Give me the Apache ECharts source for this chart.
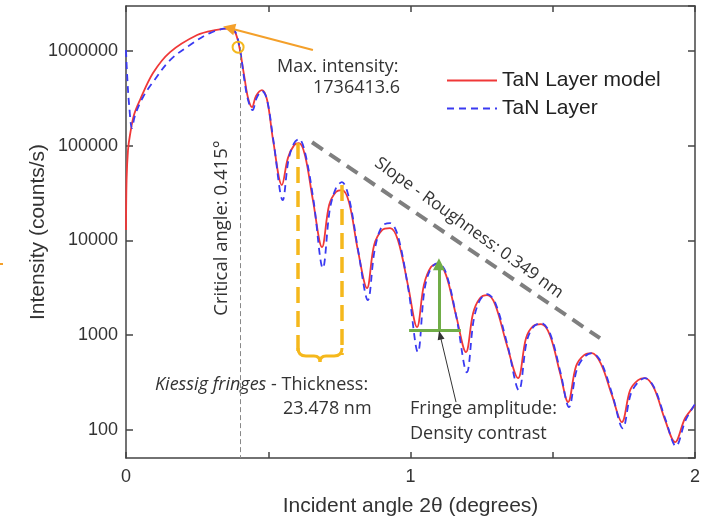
<!DOCTYPE html>
<html>
<head>
<meta charset="utf-8">
<script src="https://cdn.jsdelivr.net/npm/echarts@6/dist/echarts.min.js"></script>
<style>html,body{margin:0;padding:0;background:#fff}#c{width:713px;height:523px}</style>
</head>
<body>
<div id="c"></div>
<script>
// ---- data ----
const modelAngle = [0, 0.002, 0.007, 0.014, 0.028, 0.049, 0.095, 0.155, 0.250, 0.313, 0.366, 0.383, 0.397, 0.415, 0.429, 0.443, 0.457, 0.478, 0.496, 0.517, 0.548, 0.569, 0.591, 0.608, 0.629, 0.657, 0.689, 0.714, 0.738, 0.759, 0.784, 0.815, 0.847, 0.872, 0.900, 0.928, 0.956, 0.991, 1.023, 1.047, 1.072, 1.097, 1.125, 1.160, 1.195, 1.220, 1.244, 1.269, 1.297, 1.339, 1.378, 1.406, 1.431, 1.459, 1.490, 1.525, 1.554, 1.582, 1.610, 1.638, 1.670, 1.708, 1.743, 1.772, 1.800, 1.824, 1.856, 1.895, 1.930, 1.965, 2.0];
const modelIntensity = [12900, 43400, 90000, 130000, 211000, 304000, 586000, 975000, 1476000, 1667000, 1736413.6, 1588000, 1157000, 558000, 319000, 256000, 335000, 387000, 304000, 115000, 38500, 74100, 101600, 106900, 79800, 26700, 8510, 23700, 32500, 34100, 25400, 7920, 3140, 8930, 12880, 13520, 10100, 3380, 1218, 3380, 5240, 5640, 4310, 1630, 663, 1710, 2460, 2650, 2130, 785, 352, 931, 1247, 1309, 1002, 407, 197, 472, 617, 648, 495, 233, 121, 263, 336, 352, 276, 127, 74.3, 133, 183];
const dataAngle = [0, 0.004, 0.011, 0.021, 0.032, 0.060, 0.095, 0.155, 0.225, 0.295, 0.359, 0.383, 0.401, 0.415, 0.429, 0.445, 0.459, 0.478, 0.496, 0.519, 0.551, 0.571, 0.591, 0.608, 0.629, 0.659, 0.692, 0.716, 0.738, 0.759, 0.784, 0.817, 0.850, 0.874, 0.900, 0.928, 0.956, 0.993, 1.026, 1.049, 1.072, 1.097, 1.125, 1.162, 1.198, 1.222, 1.244, 1.269, 1.297, 1.341, 1.381, 1.408, 1.431, 1.459, 1.490, 1.527, 1.557, 1.584, 1.610, 1.638, 1.670, 1.710, 1.746, 1.774, 1.800, 1.824, 1.856, 1.897, 1.933, 1.967, 2.0];
const dataIntensity = [1025000, 558000, 269000, 154000, 211000, 327000, 471000, 803000, 1157000, 1549000, 1736000, 1626000, 1025000, 519000, 304000, 238000, 319000, 378000, 304000, 109000, 26700, 70600, 106900, 117800, 85700, 26700, 5120, 20900, 35700, 41400, 28000, 7550, 2350, 7920, 14200, 15280, 11100, 2990, 663, 2990, 5120, 5770, 4530, 1517, 407, 1442, 2350, 2720, 2240, 785, 263, 845, 1218, 1343, 1052, 407, 174, 428, 587, 648, 520, 233, 104, 239, 320, 352, 283, 127, 67.5, 127, 187];
const xTicks = [0, 1, 2];
const yTicks = [100, 1000, 10000, 100000, 1000000];
const seriesNames = ['TaN Layer model', 'TaN Layer'];

const pairs = (xs, ys) => xs.map((x, i) => [x, ys[i]]);
const chart = echarts.init(document.getElementById('c'), null, {renderer: 'canvas'});
const AX = '#444';
const FONT = '"Liberation Sans", Arial, sans-serif';
const NOTE = '"Open Sans", sans-serif';
const yMin = 50.6, yMax = 2990000;

const ml = (lines, style, symbols, symSize) => ({
  type: 'line', data: [], silent: true,
  markLine: {
    silent: true, animation: false, symbol: symbols || ['none', 'none'], symbolSize: symSize || 10,
    label: {show: false}, lineStyle: style,
    emphasis: {disabled: true},
    data: lines.map(l => [{coord: l[0]}, {coord: l[1]}])
  }
});

const BR = '#f5b81c';
chart.setOption({
  animation: false,
  backgroundColor: '#fff',
  grid: {left: 126, right: 18, top: 6, bottom: 65, containLabel: false},
  legend: {
    data: seriesNames, orient: 'vertical', left: 441, top: 65, itemWidth: 50, itemHeight: 14, itemGap: 7,
    itemStyle: {color: 'rgba(0,0,0,0)', borderWidth: 0, opacity: 0},
    textStyle: {fontFamily: FONT, fontSize: 21, color: '#222'}
  },
  xAxis: [{
    type: 'value', min: 0, max: 2, interval: 0.5,
    name: 'Incident angle 2\u03B8 (degrees)', nameLocation: 'middle', nameGap: 38,
    nameTextStyle: {fontFamily: FONT, fontSize: 21, color: '#333'},
    axisLine: {show: true, onZero: false, lineStyle: {color: AX, width: 1.5}},
    axisTick: {inside: true, length: 6, lineStyle: {color: AX, width: 1.5}},
    axisLabel: {fontFamily: FONT, fontSize: 18, color: '#333', margin: 10,
      formatter: v => xTicks.indexOf(v) >= 0 ? String(v) : ''},
    splitLine: {show: false}
  }, {
    type: 'value', min: 0, max: 2, interval: 0.5, position: 'top',
    axisLine: {show: true, onZero: false, lineStyle: {color: AX, width: 1.5}},
    axisTick: {inside: true, length: 6, lineStyle: {color: AX, width: 1.5}},
    axisLabel: {show: false}, splitLine: {show: false}
  }],
  yAxis: [{
    type: 'log', logBase: 10, min: yMin, max: yMax,
    name: 'Intensity (counts/s)', nameLocation: 'middle', nameGap: 77, nameMoveOverlap: false,
    nameTextStyle: {fontFamily: FONT, fontSize: 21, color: '#333'},
    axisLine: {show: true, onZero: false, lineStyle: {color: AX, width: 1.5}},
    axisTick: {inside: true, length: 7, lineStyle: {color: AX, width: 1.5}},
    axisLabel: {fontFamily: FONT, fontSize: 18, color: '#333', margin: 8, showMinLabel: false, showMaxLabel: false,
      formatter: v => { const r = Math.round(v); return yTicks.indexOf(r) >= 0 ? String(r) : ''; }},
    splitLine: {show: false}
  }, {
    type: 'log', logBase: 10, min: yMin, max: yMax, position: 'right',
    axisLine: {show: true, onZero: false, lineStyle: {color: AX, width: 1.5}},
    axisTick: {inside: true, length: 7, lineStyle: {color: AX, width: 1.5}},
    axisLabel: {show: false}, splitLine: {show: false}
  }],
  series: [
    ml([[[0.40, 1100000], [0.40, yMin]]], {color: '#888', width: 1, type: [5, 3]}),
    {
      name: seriesNames[0], type: 'line', data: pairs(modelAngle, modelIntensity),
      showSymbol: false, symbol: 'none', smooth: 0.35, z: 3,
      lineStyle: {color: '#f03838', width: 1.8}, itemStyle: {color: '#f03838'}
    },
    {
      name: seriesNames[1], type: 'line', data: pairs(dataAngle, dataIntensity),
      showSymbol: false, symbol: 'none', smooth: 0.35, z: 4,
      lineStyle: {color: '#3a3af2', width: 1.8, type: [7, 5]}, itemStyle: {color: '#3a3af2'}
    },
    ml([[[0.654, 109000], [1.666, 931]]], {color: '#7f7f7f', width: 4, type: [13, 8]}),
    ml([[[0.605, 107000], [0.605, 617]], [[0.759, 38500], [0.759, 617]]], {color: BR, width: 3.5, type: [16, 8]}),
    ml([[[0.657, 1025000], [0.362, 1750000]]], {color: '#f4a02a', width: 2, type: 'solid'}, ['none', 'triangle'], [12, 12]),
    ml([[[0.995, 1132], [1.177, 1132]]], {color: '#70ad47', width: 3, type: 'solid'}),
    ml([[[1.100, 1132], [1.100, 5600]]], {color: '#70ad47', width: 3, type: 'solid'}, ['none', 'triangle'], [12, 12]),
    ml([[[1.160, 197], [1.104, 1002]]], {color: '#333', width: 1, type: 'solid'}, ['none', 'triangle'], [7, 9]),
    {
      type: 'line', data: [], silent: true,
      markPoint: {
        silent: true, animation: false, symbol: 'circle', symbolSize: 11,
        itemStyle: {color: 'rgba(0,0,0,0)', borderColor: BR, borderWidth: 2},
        label: {show: false},
        data: [{coord: [0.394, 1100000]}]
      }
    }
  ],
  graphic: [
    {type: 'bezierCurve', shape: {x1: 298, y1: 348, x2: 306, y2: 356, cpx1: 298, cpy1: 356}, style: {fill: null, stroke: BR, lineWidth: 3}},
    {type: 'line', shape: {x1: 306, y1: 356, x2: 314, y2: 356}, style: {stroke: BR, lineWidth: 3}},
    {type: 'bezierCurve', shape: {x1: 314, y1: 356, x2: 320, y2: 362, cpx1: 320, cpy1: 356}, style: {fill: null, stroke: BR, lineWidth: 3}},
    {type: 'bezierCurve', shape: {x1: 326, y1: 356, x2: 320, y2: 362, cpx1: 320, cpy1: 356}, style: {fill: null, stroke: BR, lineWidth: 3}},
    {type: 'line', shape: {x1: 326, y1: 356, x2: 334, y2: 356}, style: {stroke: BR, lineWidth: 3}},
    {type: 'bezierCurve', shape: {x1: 342, y1: 348, x2: 334, y2: 356, cpx1: 342, cpy1: 356}, style: {fill: null, stroke: BR, lineWidth: 3}},
    {type: 'rect', shape: {x: 0, y: 263, width: 3, height: 2}, style: {fill: '#f4a02a'}},
    {type: 'text', x: 277, y: 67, style: {text: 'Max. intensity:', font: '18px ' + NOTE, fill: '#333', verticalAlign: 'middle'}},
    {type: 'text', x: 313, y: 88, style: {text: '1736413.6', font: '18px ' + NOTE, fill: '#333', verticalAlign: 'middle'}},
    {type: 'text', x: 222, y: 228, rotation: Math.PI / 2, style: {text: 'Critical angle: 0.415\u00B0', font: '18.5px ' + NOTE, fill: '#333', align: 'center', verticalAlign: 'middle'}},
    {type: 'text', x: 469, y: 228, rotation: -0.625, style: {text: 'Slope - Roughness: 0.349 nm', font: '17px ' + NOTE, fill: '#333', align: 'center', verticalAlign: 'middle'}},
    {type: 'text', x: 155, y: 385, style: {
      text: '{i|Kiessig fringes}{n| - Thickness:}', verticalAlign: 'middle',
      rich: {i: {fontFamily: NOTE, fontSize: 18, fontStyle: 'italic', fill: '#333'}, n: {fontFamily: NOTE, fontSize: 18, fill: '#333'}}}},
    {type: 'text', x: 283, y: 409, style: {text: '23.478 nm', font: '18px ' + NOTE, fill: '#333', verticalAlign: 'middle'}},
    {type: 'text', x: 410, y: 409, style: {text: 'Fringe amplitude:', font: '18px ' + NOTE, fill: '#333', verticalAlign: 'middle'}},
    {type: 'text', x: 410, y: 434, style: {text: 'Density contrast', font: '18px ' + NOTE, fill: '#333', verticalAlign: 'middle'}}
  ]
});
</script>
</body>
</html>
